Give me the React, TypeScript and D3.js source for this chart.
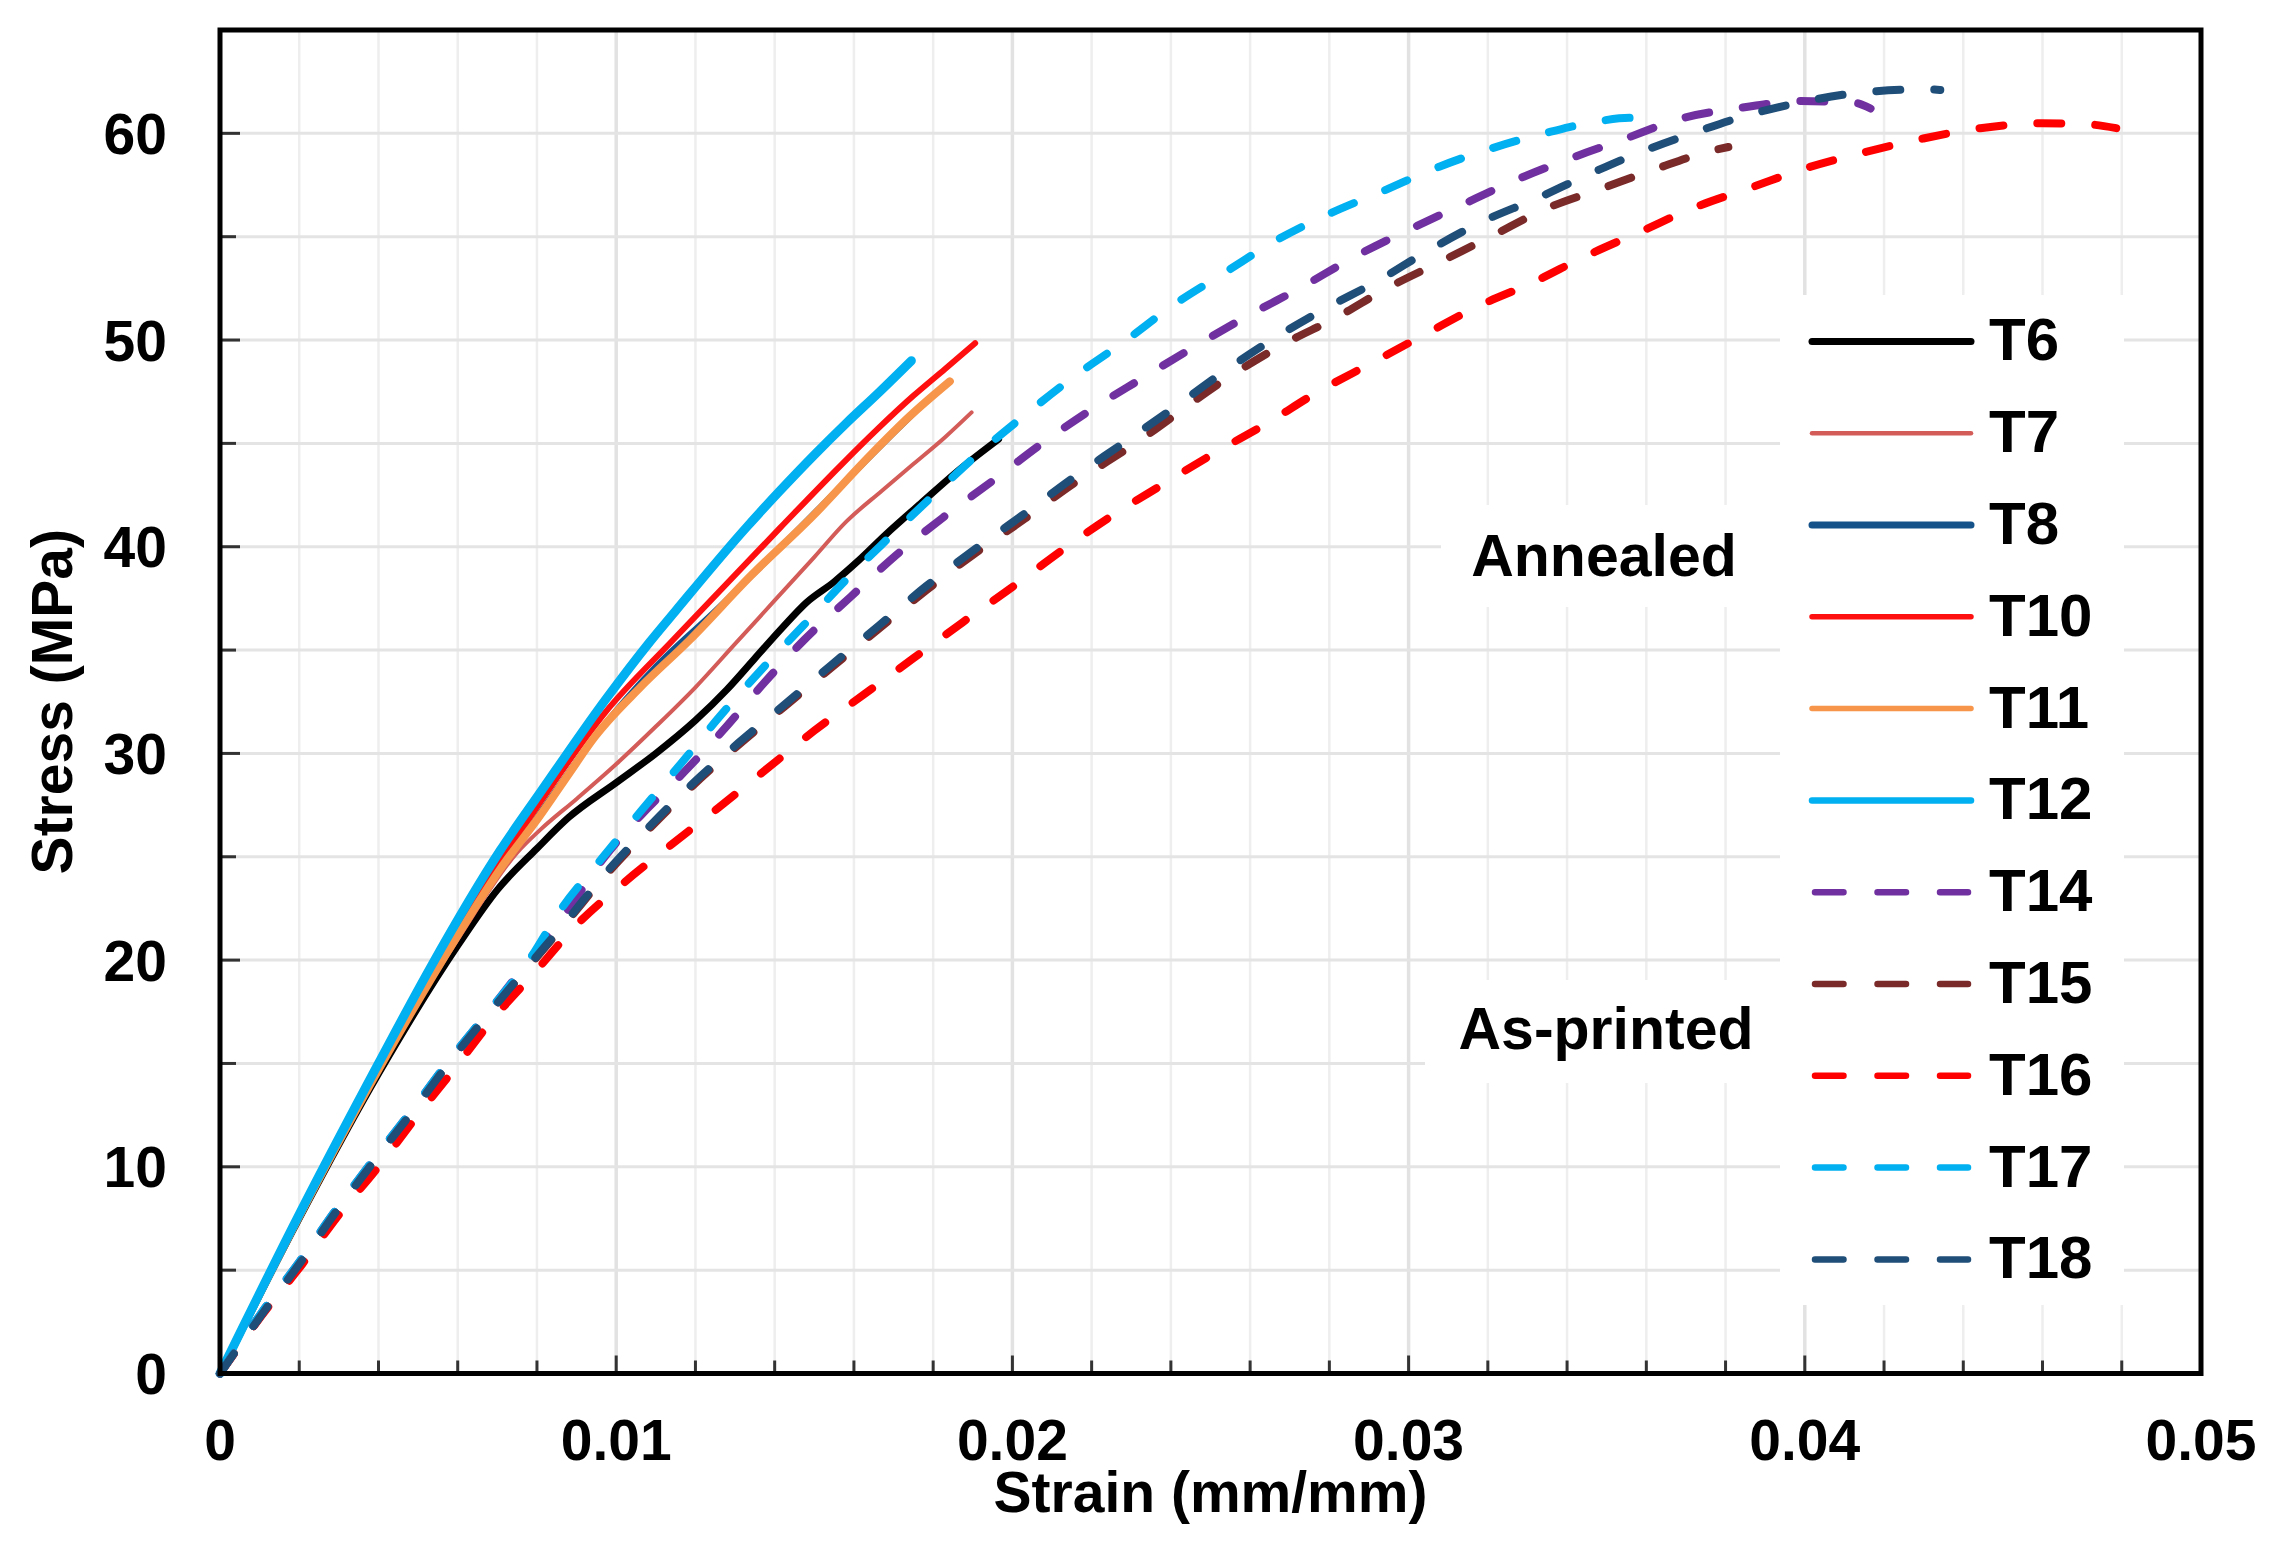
import React from "react";
import * as d3 from "d3";

// ---------- data (strain mm/mm, stress MPa) ----------
const T6: [number, number][] = [
  [0, 0], [0.002, 7.5], [0.004, 14.5], [0.006, 20.7], [0.007, 23.4], [0.008, 25.4],
  [0.0088, 26.9], [0.01001, 28.6], [0.011, 30.0], [0.012, 31.6], [0.0128, 33.1],
  [0.0135, 34.6], [0.0142, 36.1], [0.0148, 37.3], [0.0155, 38.3], [0.0161, 39.3],
  [0.01681, 40.6], [0.01769, 42.1], [0.01858, 43.6], [0.01965, 45.2],
];
const T7: [number, number][] = [
  [0, 0], [0.002, 7.6], [0.004, 14.7], [0.006, 21.0], [0.0075, 25.2], [0.00808, 26.3],
  [0.009, 27.8], [0.01001, 29.5], [0.011, 31.3], [0.012, 33.2], [0.013, 35.3], [0.014, 37.4],
  [0.015, 39.5], [0.0158, 41.2], [0.0167, 42.7], [0.0175, 44.0], [0.0183, 45.3], [0.01897, 46.5],
];
const T8: [number, number][] = [
  [0, 0], [0.002, 7.6], [0.004, 14.7], [0.006, 21.2], [0.008, 26.9], [0.0095, 30.9],
  [0.011, 34.2], [0.0125, 36.9], [0.014, 39.7], [0.0155, 42.6], [0.017, 45.5], [0.0178, 47.0],
];
const T10: [number, number][] = [
  [0, 0], [0.002, 7.6], [0.004, 14.8], [0.006, 21.4], [0.008, 27.4], [0.00973, 32.0],
  [0.01144, 35.5], [0.01413, 40.9], [0.0157, 44.0], [0.0166, 45.7], [0.0175, 47.3],
  [0.0183, 48.6], [0.01906, 49.85],
];
const T11: [number, number][] = [
  [0, 0], [0.002, 7.6], [0.004, 14.7], [0.006, 21.2], [0.00707, 24.4], [0.00808, 27.0],
  [0.0088, 29.0], [0.00946, 30.8], [0.01061, 33.2], [0.01186, 35.5], [0.0134, 38.6],
  [0.01497, 41.5], [0.0164, 44.4], [0.0174, 46.3], [0.01842, 48.0],
];
const T12: [number, number][] = [
  [0, 0], [0.002, 7.7], [0.004, 15.0], [0.0053, 19.6], [0.00707, 25.3], [0.00808, 28.1],
  [0.00973, 32.6], [0.01085, 35.4], [0.0115, 36.9], [0.01327, 40.9], [0.01413, 42.7],
  [0.01503, 44.5], [0.01582, 46.0], [0.01665, 47.5], [0.01745, 49.0],
];
const T14: [number, number][] = [
  [0, 0], [0.00111, 3.1], [0.00204, 5.5], [0.00292, 7.9], [0.0039, 10.4], [0.00487, 12.8],
  [0.00585, 15.3], [0.00682, 17.6], [0.0078, 20.0], [0.00877, 22.4], [0.00963, 24.8],
  [0.01062, 27.0], [0.01169, 29.05], [0.01269, 31.1], [0.01375, 33.45], [0.01477, 35.54],
  [0.01593, 37.6], [0.01707, 39.6], [0.01824, 41.4], [0.01951, 43.2], [0.02075, 45.0],
  [0.02201, 46.66], [0.02326, 48.13], [0.02461, 49.7], [0.02597, 51.2], [0.02732, 52.58],
  [0.02857, 53.96], [0.02993, 55.27], [0.03127, 56.47], [0.03262, 57.67], [0.03407, 58.78],
  [0.03537, 59.67], [0.03692, 60.74], [0.03836, 61.23], [0.0399, 61.56], [0.04125, 61.48],
  [0.04166, 61.2],
];
const T15: [number, number][] = [
  [0, 0], [0.00111, 3.0], [0.00204, 5.4], [0.00292, 7.8], [0.0039, 10.3], [0.00487, 12.7],
  [0.00585, 15.2], [0.00682, 17.5], [0.0078, 19.7], [0.00877, 21.9], [0.00973, 24.1],
  [0.01083, 26.35], [0.01191, 28.4], [0.01308, 30.4], [0.01427, 32.3], [0.01543, 34.15],
  [0.01664, 36.05], [0.01783, 37.9], [0.01907, 39.7], [0.02031, 41.35], [0.0215, 43.0],
  [0.0231, 45.0], [0.02548, 48.23], [0.02684, 49.8], [0.02819, 51.1], [0.02944, 52.49],
  [0.0308, 53.78], [0.03215, 55.08], [0.0335, 56.38], [0.03483, 57.3], [0.03624, 58.28],
  [0.03769, 59.18], [0.03807, 59.34],
];
const T16: [number, number][] = [
  [0, 0], [0.00105, 2.8], [0.00208, 5.3], [0.00301, 7.7], [0.00404, 10.1], [0.00497, 12.45],
  [0.00594, 14.8], [0.00691, 17.2], [0.00794, 19.4], [0.009, 21.7], [0.0102, 23.75],
  [0.0114, 25.6], [0.0126, 27.4], [0.0138, 29.25], [0.015, 31.1], [0.01625, 32.85],
  [0.0175, 34.6], [0.01875, 36.35], [0.02, 38.05], [0.02123, 39.8], [0.02249, 41.47],
  [0.02374, 42.95], [0.0251, 44.53], [0.02645, 46.0], [0.0277, 47.48], [0.02906, 48.88],
  [0.03041, 50.27], [0.03177, 51.65], [0.03312, 52.77], [0.03447, 54.06], [0.03586, 55.25],
  [0.0372, 56.4], [0.03865, 57.38], [0.0401, 58.36], [0.04154, 59.1], [0.04299, 59.75],
  [0.04443, 60.25], [0.04598, 60.49], [0.04713, 60.44], [0.04786, 60.25],
];
const T17: [number, number][] = [
  [0, 0], [0.00111, 3.1], [0.00204, 5.5], [0.00292, 7.9], [0.0039, 10.4], [0.00487, 12.8],
  [0.00585, 15.3], [0.00682, 17.6], [0.0078, 20.0], [0.00862, 22.5], [0.00963, 24.9],
  [0.01062, 27.2], [0.01163, 29.5], [0.01262, 31.8], [0.01364, 34.0], [0.01473, 36.2],
  [0.0158, 38.4], [0.0169, 40.47], [0.01801, 42.5], [0.0192, 44.6], [0.02027, 46.3],
  [0.02162, 48.32], [0.02288, 50.0], [0.02403, 51.65], [0.02539, 53.3], [0.02664, 54.8],
  [0.02799, 56.1], [0.02934, 57.2], [0.03079, 58.4], [0.03214, 59.3], [0.03359, 60.08],
  [0.03483, 60.6], [0.0356, 60.75], [0.0364, 60.7],
];
const T18: [number, number][] = [
  [0, 0], [0.00111, 3.0], [0.00204, 5.4], [0.00292, 7.8], [0.0039, 10.3], [0.00487, 12.7],
  [0.00585, 15.2], [0.00682, 17.5], [0.0078, 19.75], [0.00877, 21.95], [0.00973, 24.2],
  [0.01083, 26.45], [0.01191, 28.5], [0.01308, 30.5], [0.01427, 32.4], [0.01543, 34.28],
  [0.01664, 36.2], [0.01783, 38.1], [0.01907, 39.9], [0.02031, 41.6], [0.02152, 43.32],
  [0.02278, 44.99], [0.02403, 46.66], [0.02529, 48.41], [0.02654, 50.0], [0.02785, 51.47],
  [0.02921, 52.85], [0.03051, 54.34], [0.03186, 55.73], [0.03322, 56.84], [0.03447, 57.95],
  [0.03576, 59.02], [0.03716, 60.0], [0.0386, 60.9], [0.04005, 61.56], [0.04154, 62.0],
  [0.04308, 62.13], [0.04342, 62.1],
];

const seriesNames = ["T6", "T7", "T8", "T10", "T11", "T12", "T14", "T15", "T16", "T17", "T18"];
const seriesData = [T6, T7, T8, T10, T11, T12, T14, T15, T16, T17, T18];
// drawing order (T8 lies beneath T10/T11)
const drawOrder = ["T8", "T6", "T7", "T10", "T11", "T12", "T14", "T15", "T16", "T17", "T18"];

const xTickValues = [0, 0.01, 0.02, 0.03, 0.04, 0.05];
const xTickLabels = ["0", "0.01", "0.02", "0.03", "0.04", "0.05"];
const yTickValues = [0, 10, 20, 30, 40, 50, 60];
const yTickLabels = ["0", "10", "20", "30", "40", "50", "60"];

const groupLabels = ["Annealed", "As-printed"];

// ---------- styles ----------
const styles: Record<string, { color: string; width: number; legendWidth: number; dashed: boolean }> = {
  T6: { color: "#000000", width: 7, legendWidth: 7, dashed: false },
  T7: { color: "#d35b58", width: 4, legendWidth: 4.5, dashed: false },
  T8: { color: "#15528a", width: 6, legendWidth: 7, dashed: false },
  T10: { color: "#ff1010", width: 6, legendWidth: 5.5, dashed: false },
  T11: { color: "#f7954a", width: 8, legendWidth: 5.5, dashed: false },
  T12: { color: "#00b0f0", width: 9, legendWidth: 6.5, dashed: false },
  T14: { color: "#7030a0", width: 8, legendWidth: 6.5, dashed: true },
  T15: { color: "#7b2a2a", width: 8, legendWidth: 6.5, dashed: true },
  T16: { color: "#ff0000", width: 8, legendWidth: 6.5, dashed: true },
  T17: { color: "#00b0f0", width: 8, legendWidth: 6.5, dashed: true },
  T18: { color: "#1f4e79", width: 8, legendWidth: 6.5, dashed: true },
};

const W = 2274;
const H = 1553;
const LEFT = 220;
const RIGHT = 2201;
const TOP = 30;
const BOTTOM = 1373.5;
const FONT = "'Liberation Sans', Arial, Helvetica, sans-serif";

export default function App() {
  const x = d3.scaleLinear().domain([0, 0.05]).range([LEFT, RIGHT]);
  const y = d3.scaleLinear().domain([0, 65]).range([BOTTOM, TOP]);

  const line = d3
    .line<[number, number]>()
    .x((d) => x(d[0]))
    .y((d) => y(d[1]))
    .curve(d3.curveMonotoneX);

  const xGrid = d3.range(1, 25).map((i) => ({ v: i * 0.002, major: i % 5 === 0 }));
  const yGrid = d3.range(1, 13).map((i) => i * 5);
  const xMinorTicks = d3.range(1, 25).map((i) => ({ v: i * 0.002, major: i % 5 === 0 }));
  const yMinorTicks = d3.range(1, 13).map((i) => ({ v: i * 5, major: i % 2 === 0 }));

  const legendX1 = 1812;
  const legendX2 = 1971;
  const legendY = (i: number) => 341.4 + i * 91.8;

  return (
    <div style={{ position: "absolute", left: 0, top: 0, width: W, height: H, background: "#fff" }}>
      <svg width={W} height={H} viewBox={`0 0 ${W} ${H}`} style={{ display: "block" }}>
        <rect x={0} y={0} width={W} height={H} fill="#ffffff" />
        {/* grid */}
        <g>
          {xGrid.map((g) => (
            <line
              key={"xg" + g.v}
              x1={x(g.v)}
              x2={x(g.v)}
              y1={TOP}
              y2={BOTTOM}
              stroke={g.major ? "#e2e2e2" : "#eeeeee"}
              strokeWidth={g.major ? 3.5 : 2.5}
            />
          ))}
          {yGrid.map((v) => (
            <line key={"yg" + v} x1={LEFT} x2={RIGHT} y1={y(v)} y2={y(v)} stroke="#e4e4e4" strokeWidth={3} />
          ))}
        </g>
        {/* white label / legend backgrounds */}
        <rect x={1780} y={295} width={344} height={1010} fill="#ffffff" />
        <rect x={1441} y={505} width={339} height={102} fill="#ffffff" />
        <rect x={1425} y={980} width={355} height={103} fill="#ffffff" />

        {/* ticks */}
        <g stroke="#333" strokeWidth={3}>
          {xMinorTicks.map((t) => (
            <line key={"xt" + t.v} x1={x(t.v)} x2={x(t.v)} y1={BOTTOM} y2={BOTTOM - (t.major ? 18 : 13)} />
          ))}
          {yMinorTicks.map((t) => (
            <line key={"yt" + t.v} x1={LEFT} x2={LEFT + (t.major ? 20 : 16)} y1={y(t.v)} y2={y(t.v)} />
          ))}
        </g>

        {/* curves */}
        <g fill="none">
          {drawOrder.map((name) => {
            const data = seriesData[seriesNames.indexOf(name)];
            const s = styles[name];
            return (
              <path
                key={name}
                d={line(data) || ""}
                stroke={s.color}
                strokeWidth={s.width}
                strokeDasharray={s.dashed ? "24 34" : undefined}
                strokeLinecap="round"
                strokeLinejoin="round"
              />
            );
          })}
        </g>

        {/* frame */}
        <rect x={LEFT} y={TOP} width={RIGHT - LEFT} height={BOTTOM - TOP} fill="none" stroke="#000" strokeWidth={5} />

        {/* tick labels */}
        <g fontFamily={FONT} fontWeight="bold" fontSize={57} fill="#000">
          {xTickValues.map((v, i) => (
            <text key={"xl" + v} x={x(v)} y={1460} textAnchor="middle">
              {xTickLabels[i]}
            </text>
          ))}
          {yTickValues.map((v, i) => (
            <text key={"yl" + v} x={167} y={y(v) + 20.5} textAnchor="end">
              {yTickLabels[i]}
            </text>
          ))}
        </g>

        {/* axis titles */}
        <g fontFamily={FONT} fontWeight="bold" fontSize={57} fill="#000">
          <text x={(LEFT + RIGHT) / 2} y={1512} textAnchor="middle">
            Strain (mm/mm)
          </text>
          <text transform={`translate(72, ${(TOP + BOTTOM) / 2}) rotate(-90)`} textAnchor="middle">
            Stress (MPa)
          </text>
        </g>

        {/* group labels */}
        <g fontFamily={FONT} fontWeight="bold" fontSize={59} fill="#000">
          <text x={1604} y={576} textAnchor="middle">
            {groupLabels[0]}
          </text>
          <text x={1606} y={1049} textAnchor="middle">
            {groupLabels[1]}
          </text>
        </g>

        {/* legend */}
        <g>
          {seriesNames.map((name, i) => {
            const s = styles[name];
            const ly = legendY(i);
            return (
              <g key={"lg" + name}>
                {s.dashed ? (
                  <line
                    x1={legendX1 + 3}
                    x2={legendX2 - 3}
                    y1={ly}
                    y2={ly}
                    stroke={s.color}
                    strokeWidth={s.legendWidth}
                    strokeDasharray="28.5 34"
                    strokeLinecap="round"
                  />
                ) : (
                  <line
                    x1={legendX1}
                    x2={legendX2}
                    y1={ly}
                    y2={ly}
                    stroke={s.color}
                    strokeWidth={s.legendWidth}
                    strokeLinecap="round"
                  />
                )}
                <text x={1989} y={ly + 19} fontFamily={FONT} fontWeight="bold" fontSize={60} fill="#000">
                  {name}
                </text>
              </g>
            );
          })}
        </g>
      </svg>
    </div>
  );
}
